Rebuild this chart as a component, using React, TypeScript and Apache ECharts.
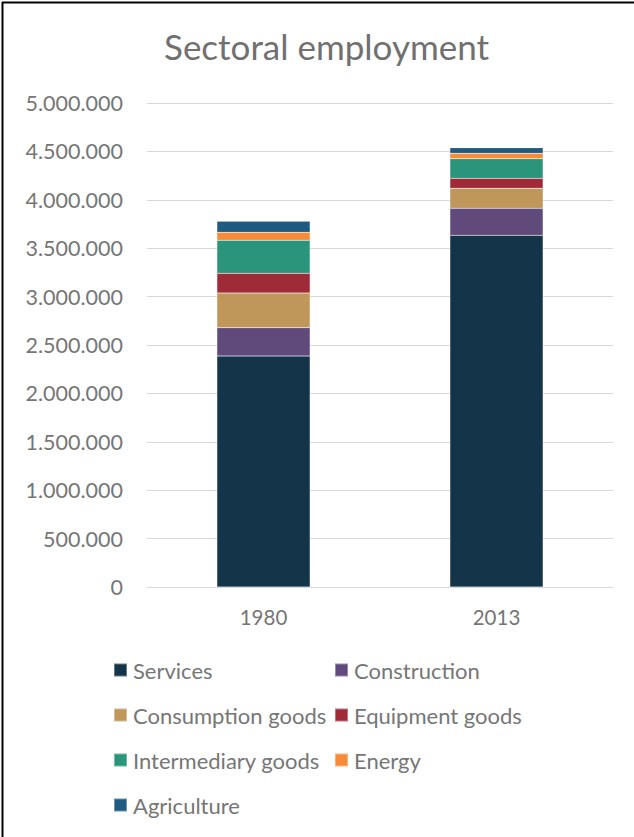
import React, { useEffect, useRef } from "react";
import * as echarts from "echarts";

const categories = ["1980", "2013"];
const seriesNames = [
  "Services",
  "Construction",
  "Consumption goods",
  "Equipment goods",
  "Intermediary goods",
  "Energy",
  "Agriculture",
];
const services = [2386000, 3633000];
const construction = [293000, 279000];
const consumptionGoods = [358000, 207000];
const equipmentGoods = [204000, 103000];
const intermediaryGoods = [341000, 203000];
const energy = [82000, 55000];
const agriculture = [114000, 58000];
const colors = ["#143449", "#604A7B", "#C0975A", "#A02B38", "#2A957A", "#F68B3A", "#1F5A80"];

const allValues = [services, construction, consumptionGoods, equipmentGoods, intermediaryGoods, energy, agriculture];

function fmt(v: number): string {
  return String(v).replace(/\B(?=(\d{3})+(?!\d))/g, ".");
}

export default function App() {
  const ref = useRef<HTMLDivElement>(null);
  useEffect(() => {
    if (!ref.current) return;
    const chart = echarts.init(ref.current, null, { renderer: "svg" });
    const font = "Lato";
    const textColor = "#767676";
    const legendCommon = {
      orient: "vertical",
      top: 659,
      padding: 0,
      itemWidth: 13,
      itemHeight: 13,
      itemGap: 23,
      icon: "rect",
      textStyle: { fontFamily: font, fontSize: 22, color: textColor, lineHeight: 22, padding: [0, 0, 0, 1] },
    };
    chart.setOption({
      animation: false,
      backgroundColor: "#ffffff",
      title: {
        text: "Sectoral employment",
        left: 159,
        top: 23,
        textStyle: { fontFamily: font, fontSize: 35, fontWeight: "normal", color: "#707070" },
      },
      graphic: [
        {
          type: "line",
          shape: { x1: 2, y1: 2.5, x2: 634, y2: 2.5 },
          style: { stroke: "#000000", lineWidth: 2 },
          silent: true,
        },
        {
          type: "line",
          shape: { x1: 2.5, y1: 2, x2: 2.5, y2: 837 },
          style: { stroke: "#000000", lineWidth: 2 },
          silent: true,
        },
      ],
      legend: [
        { ...legendCommon, left: 113, data: ["Services", "Consumption goods", "Intermediary goods", "Agriculture"] },
        { ...legendCommon, left: 334, data: ["Construction", "Equipment goods", "Energy"] },
      ],
      grid: { left: 147, right: 21, top: 103, bottom: 250, containLabel: false },
      xAxis: {
        type: "category",
        data: categories,
        axisLine: { lineStyle: { color: "#d9d9d9" } },
        axisTick: { show: false },
        axisLabel: { fontFamily: font, fontSize: 20.5, color: textColor, margin: 19 },
      },
      yAxis: {
        type: "value",
        min: 0,
        max: 5000000,
        interval: 500000,
        axisLine: { show: false },
        axisTick: { show: false },
        splitLine: { lineStyle: { color: "#d9d9d9", width: 1 } },
        axisLabel: { fontFamily: font, fontSize: 21.5, color: textColor, margin: 24, formatter: (v: number) => fmt(v) },
      },
      series: seriesNames.map((name, i) => ({
        name,
        type: "bar",
        stack: "total",
        barCategoryGap: "60%",
        data: allValues[i],
        itemStyle: { color: colors[i], borderColor: "rgba(255,255,255,0.35)", borderWidth: 0.5 },
      })),
    });
    return () => chart.dispose();
  }, []);
  return (
    <div
      ref={ref}
      style={{ position: "fixed", left: 0, top: 0, width: 634, height: 837 }}
    />
  );
}
